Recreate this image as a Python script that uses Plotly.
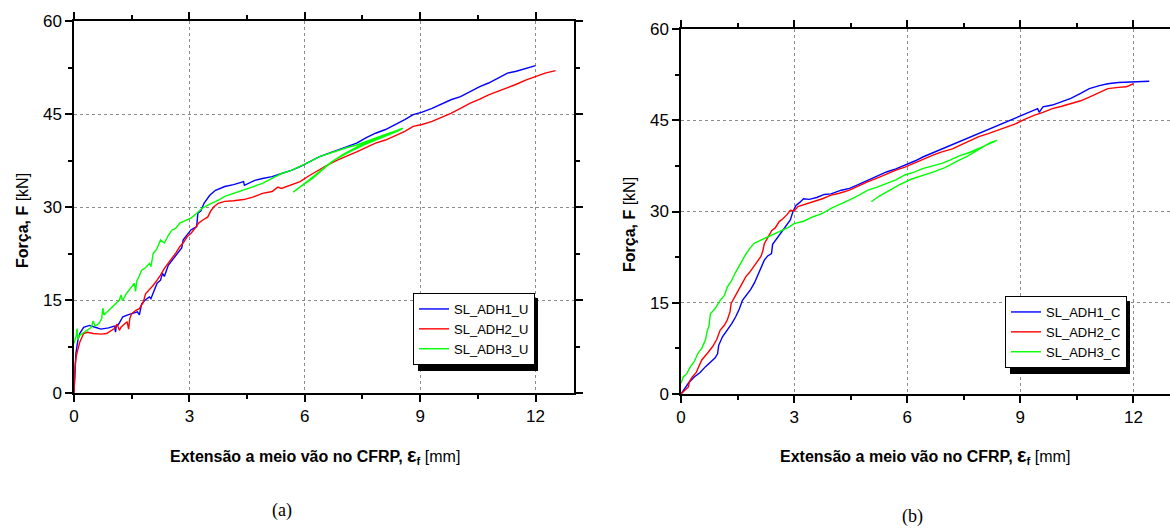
import plotly.graph_objects as go

# ---------------- data: panel (a) ----------------
u1_x = [0, 0.02, 0.05, 0.1, 0.15, 0.25, 0.4, 0.55, 0.7, 0.9, 1.05, 1.08, 1.1, 1.15, 1.27, 1.4, 1.55, 1.65, 1.7, 1.76,
        1.85, 1.96, 2.0, 2.1, 2.16, 2.25, 2.3, 2.35, 2.45, 2.55, 2.65, 2.75, 2.8, 2.84, 2.95, 3.04, 3.12, 3.19, 3.22,
        3.3, 3.38, 3.45, 3.53, 3.68, 3.92, 4.15, 4.41, 4.43, 4.7, 4.9, 5.15, 5.4, 5.65, 5.88, 6.1, 6.37, 6.6, 6.86,
        7.1, 7.35, 7.6, 7.84, 8.1, 8.33, 8.6, 8.82, 9.05, 9.31, 9.55, 9.8, 10.05, 10.29, 10.55, 10.78, 11.0, 11.27,
        11.5, 11.76, 12.0]
u1_y = [0, 3.0, 6.4, 8.5, 9.6, 10.6, 10.9, 10.6, 10.3, 10.5, 10.8, 9.8, 10.9, 11.0, 12.3, 12.6, 12.9, 13.1, 12.6, 14.4,
        15.0, 15.5, 15.2, 16.8, 17.7, 18.2, 19.3, 18.8, 20.6, 21.4, 22.2, 23.0, 23.4, 24.7, 25.6, 26.3, 26.6, 26.8, 29.0,
        29.4, 30.6, 31.2, 31.9, 32.7, 33.3, 33.6, 34.1, 33.5, 34.3, 34.6, 34.9, 35.4, 35.9, 36.5, 37.2, 38.1, 38.6, 39.2,
        39.7, 40.3, 41.2, 41.9, 42.5, 43.2, 44.1, 44.9, 45.3, 45.9, 46.6, 47.3, 47.8, 48.6, 49.4, 50.0, 50.7, 51.6,
        51.9, 52.4, 52.8]

u2_x = [0, 0.01, 0.03, 0.06, 0.1, 0.15, 0.25, 0.35, 0.5, 0.7, 0.85, 0.95, 1.05, 1.12, 1.18, 1.22, 1.3, 1.38, 1.42,
        1.45, 1.5, 1.6, 1.7, 1.8, 1.86, 1.95, 2.05, 2.16, 2.25, 2.35, 2.45, 2.55, 2.65, 2.75, 2.85, 2.94, 3.05, 3.15,
        3.24, 3.35, 3.48, 3.55, 3.63, 3.75, 3.92, 4.15, 4.41, 4.65, 4.9, 5.15, 5.3, 5.39, 5.6, 5.88, 6.1, 6.37, 6.6,
        6.86, 7.1, 7.35, 7.6, 7.84, 8.1, 8.33, 8.6, 8.82, 9.05, 9.31, 9.55, 9.8, 10.05, 10.29, 10.55, 10.78, 11.0,
        11.27, 11.5, 11.76, 12.0, 12.25, 12.52]
u2_y = [0, 2.0, 4.5, 6.0, 7.0, 8.2, 9.6, 9.8, 9.6, 9.5, 9.6, 10.0, 10.4, 11.1, 10.1, 10.6, 11.0, 11.5, 10.3, 12.0,
        12.8, 13.3, 13.6, 14.6, 16.0, 16.6, 17.3, 18.2, 19.0, 20.1, 20.9, 21.7, 22.6, 23.6, 24.3, 25.2, 25.8, 26.6,
        27.4, 27.9, 28.4, 29.3, 30.0, 30.6, 30.9, 31.0, 31.2, 31.6, 32.2, 32.5, 33.2, 33.0, 33.5, 34.1, 35.0, 36.0,
        36.8, 37.6, 38.3, 38.9, 39.6, 40.3, 40.8, 41.4, 42.2, 43.0, 43.3, 43.8, 44.4, 45.1, 45.9, 46.7, 47.4, 48.1,
        48.6, 49.2, 49.8, 50.5, 51.0, 51.6, 52.0]

u3_x = [0, 0.03, 0.06, 0.08, 0.1, 0.13, 0.18, 0.25, 0.35, 0.45, 0.5, 0.55, 0.65, 0.72, 0.75, 0.78, 0.88, 0.98, 1.08,
        1.18, 1.22, 1.26, 1.37, 1.47, 1.57, 1.6, 1.63, 1.7, 1.76, 1.86, 1.96, 2.0, 2.06, 2.15, 2.25, 2.35, 2.45, 2.55,
        2.65, 2.75, 2.9, 3.04, 3.18, 3.33, 3.48, 3.63, 3.78, 3.92, 4.15, 4.41, 4.65, 4.9, 5.15, 5.4, 5.65, 5.88, 6.1,
        6.37, 6.6, 6.86, 7.1, 7.35, 7.6, 7.84, 8.1, 8.33, 8.55,
        8.4, 8.0, 7.6, 7.2, 6.8, 6.5, 6.2, 5.9, 5.7,
        5.8, 6.1, 6.4, 6.7, 7.0, 7.4, 7.8, 8.2, 8.5]
u3_y = [8.0, 8.5, 9.3, 10.4, 8.6, 9.2, 9.4, 9.8, 10.1, 10.6, 11.6, 10.8, 11.2, 12.0, 13.7, 12.6, 13.2, 13.8, 14.5,
        15.0, 15.8, 14.9, 16.1, 16.9, 17.7, 16.4, 18.0, 18.9, 19.8, 20.2, 20.9, 20.4, 22.5, 23.2, 24.7, 24.2, 25.4, 26.3,
        26.6, 27.4, 27.8, 28.2, 28.9, 29.8, 30.3, 30.7, 31.2, 31.7, 32.2, 32.7, 33.2, 33.8, 34.6, 35.4, 35.9, 36.5, 37.2,
        38.1, 38.6, 39.2, 39.6, 40.0, 40.6, 41.1, 41.7, 42.2, 42.7,
        42.2, 41.2, 40.2, 39.0, 37.7, 36.2, 34.6, 33.3, 32.4,
        33.0, 34.3, 35.8, 37.3, 38.5, 39.8, 40.9, 41.9, 42.5]

# ---------------- data: panel (b) ----------------
c1_x = [0, 0.1, 0.2, 0.35, 0.5, 0.65, 0.8, 0.9, 0.97, 1.0, 1.1, 1.23, 1.35, 1.45, 1.55, 1.63, 1.75, 1.85, 1.95, 2.02,
        2.1, 2.21, 2.3, 2.4, 2.43, 2.51, 2.6, 2.7, 2.8, 2.9, 2.97, 3.05, 3.15, 3.25, 3.4, 3.6, 3.8, 3.98, 4.25, 4.47,
        4.7, 4.96, 5.2, 5.45, 5.7, 5.94, 6.2, 6.43, 9.46, 9.5, 9.6, 9.85, 10.1, 10.34, 10.6, 10.83, 11.1, 11.32, 11.6,
        12.0, 12.42]
c1_y = [0, 1.0, 1.8, 2.8, 3.5, 4.5, 5.3, 5.9, 6.6, 8.0, 9.4, 10.5, 11.6, 12.7, 14.0, 15.4, 16.3, 17.2, 18.3, 19.3,
        20.2, 22.0, 22.7, 23.1, 24.6, 25.3, 26.0, 26.9, 27.8, 28.6, 30.0, 31.0, 31.5, 32.1, 32.0, 32.3, 32.8, 32.9, 33.5,
        33.8, 34.4, 35.1, 35.8, 36.5, 37.0, 37.6, 38.3, 39.0, 46.9, 46.3, 47.2, 47.5, 48.0, 48.6, 49.4, 50.2, 50.7, 51.0,
        51.2, 51.3, 51.4]

c2_x = [0, 0.1, 0.2, 0.22, 0.3, 0.4, 0.55, 0.7, 0.84, 0.95, 1.04, 1.15, 1.23, 1.3, 1.33, 1.43, 1.53, 1.62, 1.72, 1.82,
        1.92, 2.02, 2.12, 2.17, 2.21, 2.3, 2.41, 2.5, 2.6, 2.7, 2.8, 2.9, 3.0, 3.1, 3.3, 3.49, 3.75, 3.98, 4.2, 4.47,
        4.7, 4.96, 5.2, 5.45, 5.7, 5.94, 6.2, 6.43, 6.7, 6.92, 7.2, 7.41, 7.65, 7.9, 8.15, 8.38, 8.6, 8.87, 9.1, 9.36,
        9.6, 9.85, 10.1, 10.34, 10.6, 10.83, 11.1, 11.32, 11.6, 11.81, 12.0]
c2_y = [0, 0.6, 1.2, 2.0, 2.8, 3.5, 5.6, 6.7, 7.8, 9.0, 10.5, 11.3, 12.2, 13.5, 14.9, 16.0, 17.1, 18.0, 19.3, 20.0,
        20.9, 21.7, 22.6, 23.5, 24.7, 25.7, 26.9, 27.3, 28.3, 28.8, 29.4, 30.2, 30.1, 30.8, 31.2, 31.6, 32.1, 32.7, 33.0,
        33.5, 34.2, 34.9, 35.5, 36.2, 36.8, 37.3, 38.0, 38.7, 39.3, 39.8, 40.3, 40.9, 41.6, 42.3, 42.8, 43.3, 43.8, 44.4,
        45.1, 45.8, 46.3, 46.9, 47.3, 47.7, 48.2, 48.8, 49.5, 50.2, 50.4, 50.5, 51.0]

c3_x = [0, 0.03, 0.06, 0.15, 0.25, 0.35, 0.45, 0.55, 0.65, 0.7, 0.74, 0.78, 0.9, 1.04, 1.15, 1.23, 1.33, 1.43, 1.53,
        1.63, 1.72, 1.82, 1.95, 2.12, 2.25, 2.41, 2.55, 2.7, 2.85, 3.0, 3.25, 3.49, 3.75, 3.98, 4.2, 4.47, 4.7, 4.96,
        5.2, 5.45, 5.7, 5.94, 6.2, 6.43, 6.7, 6.92, 7.15, 7.4, 7.65, 7.89, 8.1, 8.38,
        8.2, 7.9, 7.6, 7.3, 7.0, 6.7, 6.4, 6.1, 5.8, 5.5, 5.25, 5.05]
c3_y = [1.75, 2.3, 2.8, 3.3, 4.5, 5.3, 6.7, 7.5, 8.9, 10.5, 11.1, 13.2, 14.0, 15.4, 16.2, 17.6, 18.5, 19.8, 21.0,
        22.0, 23.0, 23.9, 24.8, 25.3, 25.6, 26.1, 26.5, 26.9, 27.4, 28.0, 28.4, 29.1, 29.7, 30.5, 31.1, 31.9, 32.6, 33.5,
        34.0, 34.6, 35.2, 36.0, 36.5, 37.1, 37.5, 37.9, 38.5, 39.2, 39.7, 40.3, 40.9, 41.7,
        41.3, 40.2, 39.1, 38.2, 37.2, 36.5, 35.9, 35.3, 34.4, 33.3, 32.5, 31.6]

names_a = ["SL_ADH1_U", "SL_ADH2_U", "SL_ADH3_U"]
names_b = ["SL_ADH1_C", "SL_ADH2_C", "SL_ADH3_C"]
colors = ["#0000ff", "#ff0000", "#00ff00"]

x_tickvals = [0, 3, 6, 9, 12]
y_tickvals = [0, 15, 30, 45, 60]

W, H = 1170, 530
FONT = "Liberation Sans, Arial, sans-serif"

fig = go.Figure()
series_a = [(u1_x, u1_y), (u2_x, u2_y), (u3_x, u3_y)]
series_b = [(c1_x, c1_y), (c2_x, c2_y), (c3_x, c3_y)]
for (xs, ys), nm, col in zip(series_a, names_a, colors):
    fig.add_trace(go.Scatter(x=xs, y=ys, mode="lines", name=nm, line=dict(color=col, width=1.4),
                             xaxis="x", yaxis="y", legend="legend"))
for (xs, ys), nm, col in zip(series_b, names_b, colors):
    fig.add_trace(go.Scatter(x=xs, y=ys, mode="lines", name=nm, line=dict(color=col, width=1.4),
                             xaxis="x2", yaxis="y2", legend="legend2"))


def px_x(p):
    return p / W


def px_y(p):
    return 1 - p / H


common = dict(showline=True, linecolor="black", linewidth=1.5, mirror="ticks", ticks="outside",
              ticklen=7, tickwidth=1.5, tickcolor="black", showgrid=True, gridcolor="#8c8c8c",
              griddash="dot", gridwidth=1, zeroline=False, automargin=False,
              tickfont=dict(family=FONT, size=17, color="black"))


def minor(d):
    return dict(dtick=d, tick0=0, ticks="outside", ticklen=4, tickwidth=1.5, tickcolor="black", showgrid=False)


fig.update_layout(
    width=W, height=H, margin=dict(l=0, r=0, t=0, b=0, autoexpand=False),
    paper_bgcolor="white", plot_bgcolor="white",
    xaxis=dict(domain=[px_x(74), px_x(574)], range=[0, 13], tickvals=x_tickvals, anchor="y",
               minor=minor(1.5), **common),
    yaxis=dict(domain=[px_y(393), px_y(21)], range=[0, 60], tickvals=y_tickvals, anchor="x",
               minor=minor(7.5), **common),
    xaxis2=dict(domain=[px_x(681), 1.0], range=[0, 12.97], tickvals=x_tickvals, anchor="y2",
                minor=minor(1.5), **common),
    yaxis2=dict(domain=[px_y(394), px_y(29)], range=[0, 60], tickvals=y_tickvals, anchor="x2",
                minor=minor(7.5), **common),
    legend=dict(x=px_x(413), y=px_y(293), xanchor="left", yanchor="top", bgcolor="white",
                bordercolor="black", borderwidth=1, font=dict(family=FONT, size=13, color="black"),
                tracegroupgap=0, itemwidth=30),
    legend2=dict(x=px_x(1005), y=px_y(296), xanchor="left", yanchor="top", bgcolor="white",
                 bordercolor="black", borderwidth=1, font=dict(family=FONT, size=13, color="black"),
                 tracegroupgap=0, itemwidth=30),
    showlegend=True,
)

# legend drop shadows
for (x0, y0, x1, y1) in [(418, 298, 538, 371), (1010, 301, 1130, 374)]:
    fig.add_shape(type="rect", xref="paper", yref="paper", x0=px_x(x0), x1=px_x(x1), y0=px_y(y1), y1=px_y(y0),
                  fillcolor="black", line=dict(width=0), layer="above")

xtitle = "<b>Extensão a meio vão no CFRP, <span style='font-size:20px'>ε</span><sub>f</sub></b> [mm]"
ytitle = "<b>Força, F</b> [kN]"
ann = []
for cx, cy in [(315, 455), (925, 455)]:
    ann.append(dict(text=xtitle, x=px_x(cx), y=px_y(cy), xref="paper", yref="paper", showarrow=False,
                    xanchor="center", yanchor="middle", font=dict(family=FONT, size=16, color="black")))
for cx, cy in [(22, 221), (629, 225)]:
    ann.append(dict(text=ytitle, x=px_x(cx), y=px_y(cy), xref="paper", yref="paper", showarrow=False,
                    textangle=-90, xanchor="center", yanchor="middle",
                    font=dict(family=FONT, size=16, color="black")))
for txt, cx, cy in [("(a)", 282, 510), ("(b)", 912, 516)]:
    ann.append(dict(text=txt, x=px_x(cx), y=px_y(cy), xref="paper", yref="paper", showarrow=False,
                    xanchor="center", yanchor="middle",
                    font=dict(family="Liberation Serif, Times New Roman, serif", size=18, color="black")))
fig.update_layout(annotations=ann)

fig.write_html("out.html", config={"displayModeBar": False},
               post_script="document.body.style.margin='0px';document.body.style.overflow='hidden';")
